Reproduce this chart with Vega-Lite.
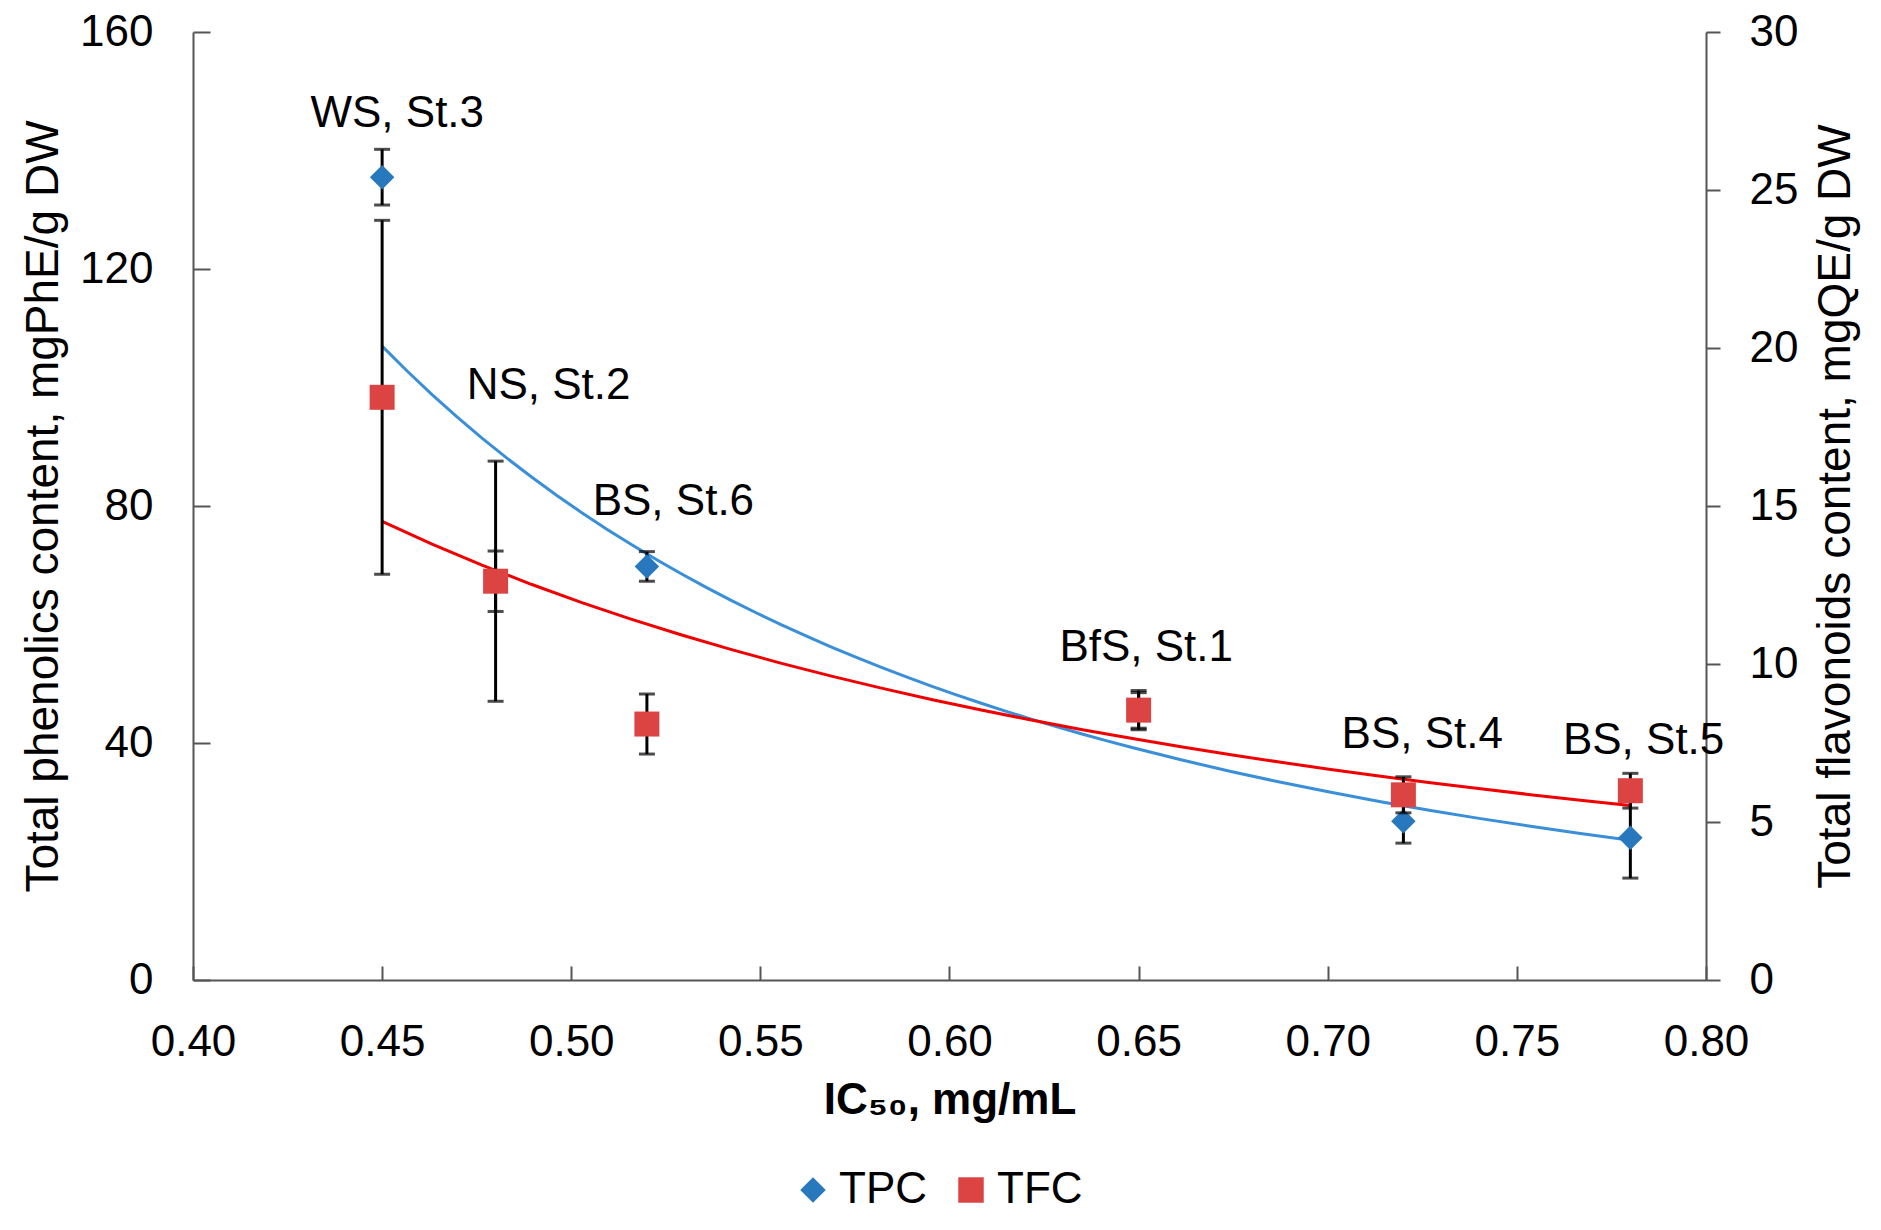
{
  "$schema": "https://vega.github.io/schema/vega-lite/v6.json",
  "width": 1513,
  "height": 948,
  "autosize": {"type": "none"},
  "padding": {"left": 193, "top": 32, "right": 175, "bottom": 250},
  "background": "white",
  "datasets": {
    "samples": [
      {"ic50": 0.45, "series": "TPC", "value": 135.5, "err": 4.7},
      {"ic50": 0.48, "series": "TPC", "value": 67.3, "err": 5.1},
      {"ic50": 0.52, "series": "TPC", "value": 69.8, "err": 2.5},
      {"ic50": 0.65, "series": "TPC", "value": 45.5, "err": 3.0},
      {"ic50": 0.72, "series": "TPC", "value": 26.8, "err": 3.7},
      {"ic50": 0.78, "series": "TPC", "value": 24.0, "err": 6.8},
      {"ic50": 0.45, "series": "TFC", "value": 18.44, "err": 5.6},
      {"ic50": 0.48, "series": "TFC", "value": 12.62, "err": 3.8},
      {"ic50": 0.52, "series": "TFC", "value": 8.1, "err": 0.95},
      {"ic50": 0.65, "series": "TFC", "value": 8.54, "err": 0.62},
      {"ic50": 0.72, "series": "TFC", "value": 5.86, "err": 0.57},
      {"ic50": 0.78, "series": "TFC", "value": 5.99, "err": 0.55}
    ],
    "labels": [
      {"ic50": 0.454, "value": 146.2, "label": "WS, St.3"},
      {"ic50": 0.494, "value": 100.2, "label": "NS, St.2"},
      {"ic50": 0.527, "value": 80.7, "label": "BS, St.6"},
      {"ic50": 0.652, "value": 56.0, "label": "BfS, St.1"},
      {"ic50": 0.725, "value": 41.4, "label": "BS, St.4"},
      {"ic50": 0.7835, "value": 40.4, "label": "BS, St.5"}
    ]
  },
  "encoding": {
    "x": {
      "field": "ic50",
      "type": "quantitative",
      "scale": {"domain": [0.4, 0.8], "nice": false, "zero": false},
      "axis": {
        "title": "IC₅₀, mg/mL",
        "titleFontWeight": "bold",
        "titleFontSize": 44,
        "titlePadding": 14,
        "values": [0.4, 0.45, 0.5, 0.55, 0.6, 0.65, 0.7, 0.75, 0.8],
        "format": ".2f",
        "tickSize": -14,
        "labelPadding": 54,
        "labelFlush": false
      }
    }
  },
  "layer": [
    {
      "encoding": {
        "y": {
          "field": "value",
          "type": "quantitative",
          "scale": {"domain": [0, 160], "nice": false},
          "axis": {
            "orient": "left",
            "title": "Total phenolics content, mgPhE/g DW",
            "values": [0, 40, 80, 120, 160],
            "tickSize": -17,
            "labelPadding": 57,
            "titlePadding": 12
          }
        }
      },
      "layer": [
        {
          "data": {"name": "samples"},
          "transform": [
            {"filter": "datum.series == 'TPC'"},
            {"regression": "value", "on": "ic50", "method": "pow", "extent": [0.45, 0.78]}
          ],
          "mark": {"type": "line", "color": "#3A8FD8", "strokeWidth": 3}
        },
        {
          "data": {"name": "samples"},
          "transform": [{"filter": "datum.series == 'TPC'"}],
          "mark": {"type": "errorbar", "color": "black", "thickness": 3, "ticks": {"size": 16, "thickness": 3}},
          "encoding": {
            "y": {"field": "value", "type": "quantitative"},
            "yError": {"field": "err"}
          }
        },
        {
          "data": {"name": "samples"},
          "transform": [{"filter": "datum.series == 'TPC'"}],
          "mark": {"type": "point", "filled": true, "opacity": 1, "size": 600},
          "encoding": {
            "color": {"field": "series", "type": "nominal", "scale": {"domain": ["TPC", "TFC"], "range": ["#2878BE", "#DC4444"]}},
            "shape": {"field": "series", "type": "nominal", "scale": {"domain": ["TPC", "TFC"], "range": ["diamond", "square"]}}
          }
        },
        {
          "data": {"name": "labels"},
          "mark": {"type": "text", "font": "Liberation Sans", "fontSize": 44, "color": "black", "align": "center", "baseline": "middle"},
          "encoding": {"text": {"field": "label"}}
        }
      ]
    },
    {
      "encoding": {
        "y": {
          "field": "value",
          "type": "quantitative",
          "scale": {"domain": [0, 30], "nice": false},
          "axis": {
            "orient": "right",
            "title": "Total flavonoids content, mgQE/g DW",
            "values": [0, 5, 10, 15, 20, 25, 30],
            "tickSize": 14,
            "labelPadding": 29,
            "titleAngle": 270,
            "titleBaseline": "top",
            "titlePadding": 16
          }
        }
      },
      "layer": [
        {
          "data": {"name": "samples"},
          "transform": [
            {"filter": "datum.series == 'TFC'"},
            {"regression": "value", "on": "ic50", "method": "pow", "extent": [0.45, 0.78]}
          ],
          "mark": {"type": "line", "color": "#F00000", "strokeWidth": 3}
        },
        {
          "data": {"name": "samples"},
          "transform": [{"filter": "datum.series == 'TFC'"}],
          "mark": {"type": "errorbar", "color": "black", "thickness": 3, "ticks": {"size": 16, "thickness": 3}},
          "encoding": {
            "y": {"field": "value", "type": "quantitative"},
            "yError": {"field": "err"}
          }
        },
        {
          "data": {"name": "samples"},
          "transform": [{"filter": "datum.series == 'TFC'"}],
          "mark": {"type": "point", "filled": true, "opacity": 1, "size": 625},
          "encoding": {
            "color": {"field": "series", "type": "nominal", "scale": {"domain": ["TPC", "TFC"], "range": ["#2878BE", "#DC4444"]}},
            "shape": {"field": "series", "type": "nominal", "scale": {"domain": ["TPC", "TFC"], "range": ["diamond", "square"]}}
          }
        }
      ]
    }
  ],
  "resolve": {"scale": {"y": "independent"}},
  "config": {
    "view": {"stroke": null},
    "axis": {
      "grid": false,
      "domainColor": "#555555",
      "domainWidth": 2,
      "tickColor": "#555555",
      "tickWidth": 2,
      "labelFont": "Liberation Sans",
      "labelFontSize": 44,
      "labelColor": "black",
      "titleFont": "Liberation Sans",
      "titleFontSize": 46,
      "titleFontWeight": "normal",
      "titleColor": "black"
    },
    "legend": {
      "orient": "none",
      "legendX": 598,
      "legendY": 1136,
      "direction": "horizontal",
      "title": null,
      "padding": 0,
      "labelFont": "Liberation Sans",
      "labelFontSize": 44,
      "labelColor": "black",
      "labelOffset": 4,
      "columnPadding": 22,
      "symbolSize": 650,
      "symbolStrokeWidth": 0
    }
  }
}
